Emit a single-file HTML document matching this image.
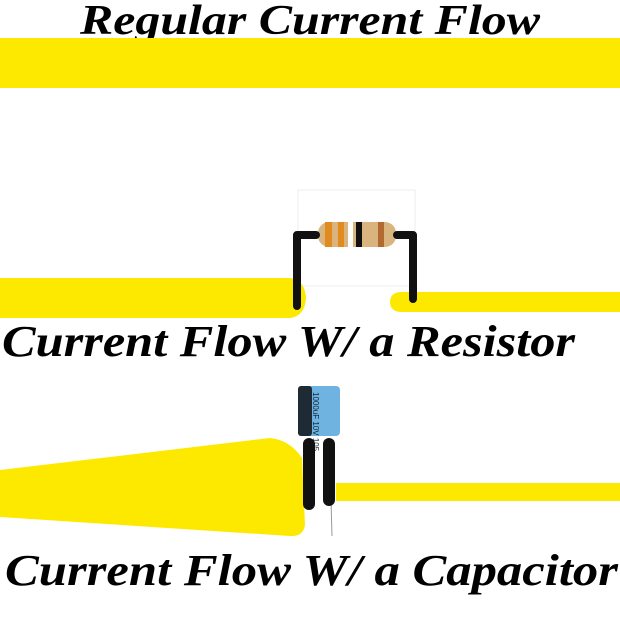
<!DOCTYPE html>
<html><head><style>body{margin:0;background:#fff}svg{display:block}</style></head>
<body>
<svg width="620" height="620" viewBox="0 0 620 620" xmlns="http://www.w3.org/2000/svg">
<g font-family="'Liberation Serif',serif" font-weight="bold" font-style="italic" fill="#000">
<text x="310" y="34" font-size="42" text-anchor="middle" textLength="460" lengthAdjust="spacingAndGlyphs">Regular Current Flow</text>
<text x="2" y="356" font-size="44" textLength="573" lengthAdjust="spacingAndGlyphs">Current Flow W/ a Resistor</text>
<text x="5" y="585" font-size="44" textLength="613" lengthAdjust="spacingAndGlyphs">Current Flow W/ a Capacitor</text>
</g>
<rect x="0" y="38" width="620" height="50" fill="#fde900"/>
<rect x="298" y="190" width="117" height="96" fill="none" stroke="#eee"/>
<path d="M0 278 H290 Q305 280 306 298 Q305 316 290 318 H0 Z" fill="#fde900"/>
<path d="M620 292 H400 Q390 293 390 302 Q390 311 400 312 H620 Z" fill="#fde900"/>
<rect x="318" y="222" width="78" height="25" rx="11" fill="#d9b47e"/>
<rect x="325" y="222" width="7" height="25" fill="#e08a20"/>
<rect x="338" y="222" width="6" height="25" fill="#e08a20"/>
<rect x="348" y="222" width="5" height="25" fill="#fff"/>
<rect x="356" y="222" width="6" height="25" fill="#111"/>
<rect x="378" y="222" width="6" height="25" fill="#b36a30"/>
<path d="M316 235 H297 V306" fill="none" stroke="#111" stroke-width="8" stroke-linecap="round" stroke-linejoin="round"/>
<path d="M397 235 H413 V299" fill="none" stroke="#111" stroke-width="8" stroke-linecap="round" stroke-linejoin="round"/>
<path d="M0 470 L270 438 Q290 440 302 458 L305 525 Q303 537 290 536 L0 517 Z" fill="#fde900"/>
<rect x="336" y="483" width="284" height="18" fill="#fde900"/>
<line x1="331" y1="500" x2="332" y2="536" stroke="#999" stroke-width="1"/>
<rect x="298" y="386" width="42" height="50" rx="4" fill="#6fb3e0"/>
<rect x="298" y="386" width="14" height="50" rx="3" fill="#1e2a34"/>
<text x="313" y="392" font-size="8" fill="#123" font-family="'Liberation Sans',sans-serif" transform="rotate(90 313 392)">1000uF 10V 105</text>
<rect x="303" y="438" width="12" height="72" rx="6" fill="#111"/>
<rect x="323" y="438" width="12" height="68" rx="6" fill="#111"/>
</svg>
</body></html>
